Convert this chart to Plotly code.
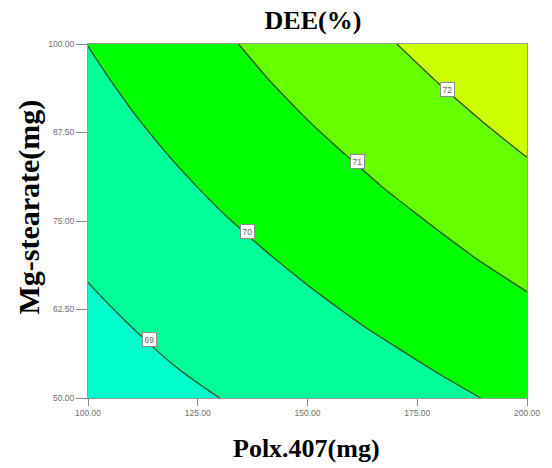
import plotly.graph_objects as go

# Grid of DEE(%) values read/estimated from the response-surface picture
polx = [100, 110, 120, 130, 140, 150, 160, 170, 180, 190, 200]          # Polx.407 (mg)
mgst = [50, 55, 60, 65, 70, 75, 80, 85, 90, 95, 100]                     # Mg-stearate (mg)
dee = [
    [68.55, 68.70, 68.85, 69.00, 69.16, 69.32, 69.49, 69.66, 69.83, 70.01, 70.19],
    [68.68, 68.85, 69.02, 69.19, 69.36, 69.53, 69.71, 69.89, 70.08, 70.27, 70.46],
    [68.82, 69.00, 69.19, 69.37, 69.56, 69.75, 69.94, 70.13, 70.33, 70.53, 70.73],
    [68.96, 69.16, 69.36, 69.56, 69.76, 69.96, 70.16, 70.37, 70.58, 70.79, 71.00],
    [69.11, 69.32, 69.53, 69.75, 69.96, 70.17, 70.39, 70.61, 70.83, 71.05, 71.27],
    [69.26, 69.48, 69.71, 69.94, 70.16, 70.39, 70.62, 70.84, 71.07, 71.30, 71.53],
    [69.41, 69.65, 69.89, 70.13, 70.37, 70.60, 70.84, 71.08, 71.32, 71.56, 71.80],
    [69.56, 69.81, 70.07, 70.32, 70.57, 70.82, 71.06, 71.31, 71.56, 71.81, 72.05],
    [69.71, 69.98, 70.24, 70.51, 70.77, 71.03, 71.29, 71.54, 71.80, 72.05, 72.31],
    [69.86, 70.14, 70.42, 70.69, 70.97, 71.24, 71.50, 71.77, 72.03, 72.30, 72.56],
    [70.01, 70.31, 70.60, 70.88, 71.16, 71.44, 71.72, 71.99, 72.26, 72.54, 72.80],
]
levels = [69, 70, 71, 72]
band_colors = ['#00FFCC', '#00FF99', '#00FF00', '#66FF00', '#CCFF00']

# contour label positions (on the lines)
label_x = [114.07, 136.36, 161.35, 182.0]
label_y = [58.24, 73.46, 83.39, 93.53]
label_text = ['69', '70', '71', '72']

x_ticks = [100, 125, 150, 175, 200]
y_ticks = [50, 62.5, 75, 87.5, 100]

serif = 'Liberation Serif, Times New Roman, serif'
sans = 'Liberation Sans, Arial, sans-serif'

n = len(band_colors) - 1
fig = go.Figure(go.Contour(
    x=polx, y=mgst, z=dee,
    contours=dict(start=levels[0], end=levels[-1], size=levels[1] - levels[0], coloring='fill'),
    colorscale=[[i / n, c] for i, c in enumerate(band_colors)],
    showscale=False,
    line=dict(color='rgb(40,75,40)', width=1.2),
    hoverinfo='skip',
))

for lx, ly, lt in zip(label_x, label_y, label_text):
    fig.add_annotation(x=lx, y=ly, xref='x', yref='y', text=lt, showarrow=False,
                       font=dict(family=sans, size=8.5, color='#666666'),
                       bgcolor='white', bordercolor='#8c8c8c', borderwidth=1, borderpad=1.5)

fig.add_annotation(text='Polx.407(mg)', xref='paper', yref='paper', x=0.497, y=-0.143,
                   showarrow=False, xanchor='center', yanchor='middle',
                   font=dict(family=serif, size=26, color='black', weight='bold'))
fig.add_annotation(text='Mg-stearate(mg)', xref='paper', yref='paper', x=-0.135, y=0.54,
                   showarrow=False, xanchor='center', yanchor='middle', textangle=-90,
                   font=dict(family=serif, size=30, color='black', weight='bold'))

axis_common = dict(showgrid=False, zeroline=False, ticks='outside', tickcolor='#888888',
                   showline=True, linecolor='#999999', linewidth=1, mirror=True,
                   tickfont=dict(family=sans, size=8.5, color='#707070'))
fig.update_xaxes(range=[100, 200], tickvals=x_ticks, ticktext=[f'{t:.2f}' for t in x_ticks],
                 ticklen=7, **axis_common)
fig.update_yaxes(range=[50, 100], tickvals=y_ticks, ticktext=[f'{t:.2f}' for t in y_ticks],
                 ticklen=11, **axis_common)

fig.update_layout(
    width=552, height=468,
    margin=dict(l=88, r=20, t=44, b=70),
    plot_bgcolor='white', paper_bgcolor='white',
    title=dict(text='DEE(%)', x=0.567, xanchor='center', y=0.957, yanchor='middle',
               font=dict(family=serif, size=26, color='black', weight='bold')),
    showlegend=False,
)
fig.write_html('out.html')
